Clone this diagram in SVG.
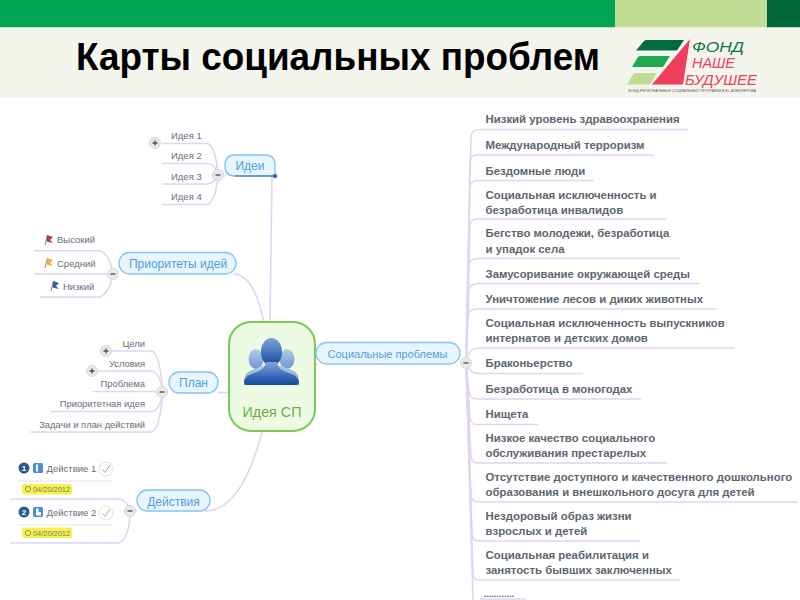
<svg xmlns="http://www.w3.org/2000/svg" width="800" height="600" viewBox="0 0 800 600">
<style>
text{font-family:"Liberation Sans",Arial,sans-serif}
.title{font-size:38px;font-weight:bold;fill:#000}
.c{fill:none;stroke:#e2d4f2;stroke-width:1.6}
.sep{fill:none;stroke:#e8dff2;stroke-width:1.2}
.topic{fill:#e9f6ff;stroke:#82c4f2;stroke-width:1.3}
.tt{font-size:12px;fill:#4b9ee6;text-anchor:middle}
.l{font-size:9.5px;fill:#6a6e74}
.r{font-size:9.4px;fill:#6a6e74;text-anchor:end}
.p{font-size:11.4px;font-weight:bold;fill:#5e666f}
.btn{fill:#e9e9e9;stroke:#d8d8d8;stroke-width:1}
.g{fill:none;stroke:#555;stroke-width:1.4}
.date{fill:#f6f14b}
.dt{font-size:7.4px;fill:#777}
.ck{fill:#fff;stroke:#e2e2e2;stroke-width:1}
.ckm{fill:none;stroke:#999;stroke-width:.9}
.num{font-size:8px;font-weight:bold;fill:#fff;text-anchor:middle}
.lg{font-size:14.5px;font-style:italic}
</style>
<defs>
<linearGradient id="gm" x1="0" y1="0" x2="0" y2="1"><stop offset="0" stop-color="#7ea5da"/><stop offset=".55" stop-color="#3f70bb"/><stop offset="1" stop-color="#17489b"/></linearGradient>
<linearGradient id="gs" x1="0" y1="0" x2="0" y2="1"><stop offset="0" stop-color="#b4cbea"/><stop offset="1" stop-color="#6d96d0"/></linearGradient>
<g id="minus"><circle r="5.5" class="btn"/><path d="M-2.5 0H2.5" class="g"/></g>
<g id="plus"><circle r="5.5" class="btn"/><path d="M-2.5 0H2.5M0 -2.5V2.5" class="g"/></g>
</defs>
<rect width="800" height="600" fill="#fff"/>
<g id="header">
<rect width="615" height="27.5" fill="#00a651"/>
<rect x="615" width="152" height="27.5" fill="#c1dc95"/>
<rect x="767" width="33" height="27.5" fill="#006738"/>
<rect y="27.5" width="800" height="70.5" fill="#f4f6ee"/>
<text class="title" x="76" y="70" textLength="524" lengthAdjust="spacingAndGlyphs">Карты социальных проблем</text>
</g>
<g id="logo">
<path d="M636 50.5L644 41Q645 40 647 40H684L677 50.5Z" fill="#006b3f"/>
<path d="M632 67L638 57Q639 56 641 56H670L663 67Z" fill="#1fa84f"/>
<path d="M627 84.5L634 73H657L650 84.5Z" fill="#c1dc95"/>
<path d="M690 39L652 84.5H683Z" fill="#ee3f5c"/>
<text class="lg" x="692" y="51.500" fill="#0b7a45" textLength="52" lengthAdjust="spacingAndGlyphs">ФОНД</text>
<text class="lg" x="692" y="68" fill="#ee3f5c" textLength="43" lengthAdjust="spacingAndGlyphs">НАШЕ</text>
<text class="lg" x="685" y="84.500" fill="#ee3f5c" textLength="72" lengthAdjust="spacingAndGlyphs">БУДУШЕЕ</text>
<text x="628" y="92" font-size="4" fill="#555" textLength="128" lengthAdjust="spacingAndGlyphs">ФОНД РЕГИОНАЛЬНЫХ СОЦИАЛЬНЫХ ПРОГРАММ В.Ю. АЛЕКПЕРОВА</text>
</g>
<g id="connectors">
<path class="c" d="M270 322L272 176"/>
<path class="c" d="M233 274C250 274 258 296 264 322"/>
<path class="c" d="M218 392.500H229"/>
<path class="c" d="M205 511C235 511 252 470 262 432"/>
<path class="c" d="M312 364H318"/>
<path class="c" d="M218 176H225"/>
<path class="c" d="M162 143.500H208Q216 148 218 176Q216 199 208 204.500H162"/>
<path class="c" d="M162 163.500H208Q216 165 218 176"/>
<path class="c" d="M162 184H208Q216 182 218 176"/>
<path class="c" d="M34 250.700H100Q110 254 113 274Q110 292 100 297H40"/>
<path class="c" d="M34 274H113"/>
<path class="c" d="M119 274H113"/>
<path class="c" d="M106 351H152Q160 355 163 392.500"/>
<path class="c" d="M92 371H152Q160 373 163 392.500"/>
<path class="c" d="M92 391.500H163"/>
<path class="c" d="M51 411.500H152Q160 410 163 392.500"/>
<path class="c" d="M30 432H152Q160 428 163 392.500"/>
<path class="c" d="M10 499H120Q128 502 130 511Q130 535 120 543H10"/>
<path class="c" d="M130 511H137"/>
<path class="sep" d="M18 481H112M18 525H112"/>
<path class="c" d="M466 363L471 136Q472 129.500 480 129.500H688"/>
<path class="c" d="M466 363L470 161Q471 155 478 155H654"/>
<path class="c" d="M466 363L470 187Q471 180.500 478 180.500H594"/>
<path class="c" d="M466 363L470 225Q471 219 478 219H666"/>
<path class="c" d="M466 363L469 265Q470 258.500 478 258.500H680"/>
<path class="c" d="M466 363L469 290Q470 283.500 478 283.500H700"/>
<path class="c" d="M466 363L468 315Q469 309 478 309H716"/>
<path class="c" d="M466 363Q468 348 478 348H735"/>
<path class="c" d="M466 363Q470 373.500 478 373.500H583"/>
<path class="c" d="M466 363L469 392Q470 399 478 399H641"/>
<path class="c" d="M466 363L470 418Q471 424.500 478 424.500H539"/>
<path class="c" d="M466 363L471 457Q472 463 478 463H667"/>
<path class="c" d="M466 363L471 496Q472 502 478 502H798"/>
<path class="c" d="M466 363L472 535Q473 541 478 541H640"/>
<path class="c" d="M466 363L473 574Q473 580 478 580H680"/>
<path class="c" d="M466 363L473 600M480 599H526"/>
</g>
<g id="root">
<rect x="229" y="322" width="86" height="109" rx="22" fill="#edfbe3" stroke="#7cc856" stroke-width="2"/>
<ellipse cx="256" cy="359" rx="7.500" ry="10" fill="url(#gs)"/>
<ellipse cx="287" cy="359" rx="7.500" ry="10" fill="url(#gs)"/>
<path d="M244 381Q245 373 250 371L262 366H282L294 371Q298 373 299 381V385H244Z" fill="url(#gs)"/>
<ellipse cx="271.500" cy="352" rx="10.500" ry="14" fill="url(#gm)"/>
<path d="M244 381Q246 375 257 372Q265 369 266 362H277Q278 369 286 372Q297 375 299 381Q299 385 296 385H247Q244 385 244 381Z" fill="url(#gm)"/>
<text x="272" y="417" font-size="14.300" fill="#6cad4a" text-anchor="middle">Идея СП</text>
</g>
<g id="ideas">
<path d="M225 176V165Q225 155 235 155H265Q275 155 275 165V176Z" fill="#e9f6ff"/>
<path d="M275 176V165Q275 155 265 155H235Q225 155 225 165V166Q225 176 235 176" fill="none" stroke="#82c4f2" stroke-width="1.300"/>
<path d="M235 176H275" stroke="#3a7fc4" stroke-width="1.300"/>
<circle cx="275" cy="176" r="2.200" fill="#2f6db5"/>
<text class="tt" x="250" y="170">Идеи</text>
<text class="l" x="171" y="139">Идея 1</text>
<text class="l" x="171" y="159">Идея 2</text>
<text class="l" x="171" y="179.500">Идея 3</text>
<text class="l" x="171" y="199.500">Идея 4</text>
<use href="#plus" x="155" y="143"/>
<use href="#minus" x="218" y="175"/>
</g>
<g id="priorities">
<rect class="topic" x="119" y="252.500" width="117" height="21.500" rx="10.700"/>
<text class="tt" x="178" y="268">Приоритеты идей</text>
<path d="M45 245L47.500 235" stroke="#888" stroke-width="1"/><path d="M47 235L53 237L50 240L53 243L46.500 241.500Z" fill="#a8433f"/>
<path d="M45 268L47.500 258" stroke="#888" stroke-width="1"/><path d="M47 258L53 260L50 263L53 266L46.500 264.500Z" fill="#f2b02e"/>
<path d="M51 291L53.500 281" stroke="#888" stroke-width="1"/><path d="M53 281L59 283L56 286L59 289L52.500 287.500Z" fill="#2f639c"/>
<text class="l" x="57" y="243">Высокий</text>
<text class="l" x="57" y="266.500">Средний</text>
<text class="l" x="63" y="289.500">Низкий</text>
<use href="#minus" x="113" y="274"/>
</g>
<g id="plan">
<rect class="topic" x="169" y="372" width="49" height="21" rx="10.500"/>
<text class="tt" x="193.500" y="387">План</text>
<text class="r" x="145" y="346.500">Цели</text>
<text class="r" x="145" y="367">Условия</text>
<text class="r" x="145" y="387">Проблема</text>
<text class="r" x="145" y="407">Приоритетная идея</text>
<text class="r" x="145" y="427.500">Задачи и план действий</text>
<use href="#plus" x="106" y="351"/>
<use href="#plus" x="92" y="371"/>
<use href="#minus" x="162" y="392"/>
</g>
<g id="actions">
<rect class="topic" x="137" y="490" width="73" height="21" rx="10.500"/>
<text class="tt" x="173.500" y="505.500">Действия</text>
<use href="#minus" x="130" y="511"/>
<circle cx="24" cy="468" r="5.500" fill="#2b5a8c"/><text class="num" x="24" y="471">1</text>
<rect x="33" y="463" width="10" height="10" rx="1.500" fill="#4a8fd8"/><rect x="36" y="464.500" width="2" height="7" fill="#fff"/>
<text class="l" x="46.500" y="472">Действие 1</text>
<circle class="ck" cx="106" cy="469" r="7"/><path class="ckm" d="M102.500 469.500L105 472.500L110 465"/>
<rect class="date" x="22" y="484" width="50" height="10.500" rx="2"/>
<circle cx="28" cy="489" r="2.700" fill="none" stroke="#777" stroke-width=".7"/>
<text class="dt" x="33" y="492">04/20/2012</text>
<circle cx="24" cy="512" r="5.500" fill="#2b5a8c"/><text class="num" x="24" y="515">2</text>
<rect x="33" y="507" width="10" height="10" rx="1.500" fill="#4a8fd8"/><path d="M36 508.500H38.500V512H41V515.500H36Z" fill="#fff"/>
<text class="l" x="46.500" y="516">Действие 2</text>
<circle class="ck" cx="106" cy="513" r="7"/><path class="ckm" d="M102.500 513.500L105 516.500L110 509"/>
<rect class="date" x="22" y="527.500" width="50" height="10.500" rx="2"/>
<circle cx="28" cy="533" r="2.700" fill="none" stroke="#777" stroke-width=".7"/>
<text class="dt" x="33" y="536">04/20/2012</text>
</g>
<g id="social">
<rect class="topic" x="316" y="342.500" width="144" height="21.500" rx="10.700"/>
<text class="tt" x="387.500" y="358" style="font-size:11px">Социальные проблемы</text>
<use href="#minus" x="466" y="363"/>
<text class="p" x="485.500" y="123">Низкий уровень здравоохранения</text>
<text class="p" x="485.500" y="148.500">Международный терроризм</text>
<text class="p" x="485.500" y="174.500">Бездомные люди</text>
<text class="p" x="485.500" y="198.500">Социальная исключенность и</text>
<text class="p" x="485.500" y="213.500">безработица инвалидов</text>
<text class="p" x="485.500" y="237">Бегство молодежи, безработица</text>
<text class="p" x="485.500" y="252.500">и упадок села</text>
<text class="p" x="485.500" y="277.500">Замусоривание окружающей среды</text>
<text class="p" x="485.500" y="303">Уничтожение лесов и диких животных</text>
<text class="p" x="485.500" y="326.500">Социальная исключенность выпускников</text>
<text class="p" x="485.500" y="342">интернатов и детских домов</text>
<text class="p" x="485.500" y="367">Браконьерство</text>
<text class="p" x="485.500" y="392.500">Безработица в моногодах</text>
<text class="p" x="485.500" y="417.500">Нищета</text>
<text class="p" x="485.500" y="442">Низкое качество социального</text>
<text class="p" x="485.500" y="457">обслуживания престарелых</text>
<text class="p" x="485.500" y="480.500">Отсутствие доступного и качественного дошкольного</text>
<text class="p" x="485.500" y="495.500">образования и внешкольного досуга для детей</text>
<text class="p" x="485.500" y="519.500">Нездоровый образ жизни</text>
<text class="p" x="485.500" y="534.500">взрослых и детей</text>
<text class="p" x="485.500" y="558.500">Социальная реабилитация и</text>
<text class="p" x="485.500" y="573.500">занятость бывших заключенных</text>
<text class="p" x="484" y="597" style="font-size:9px">............</text>
</g>
</svg>
